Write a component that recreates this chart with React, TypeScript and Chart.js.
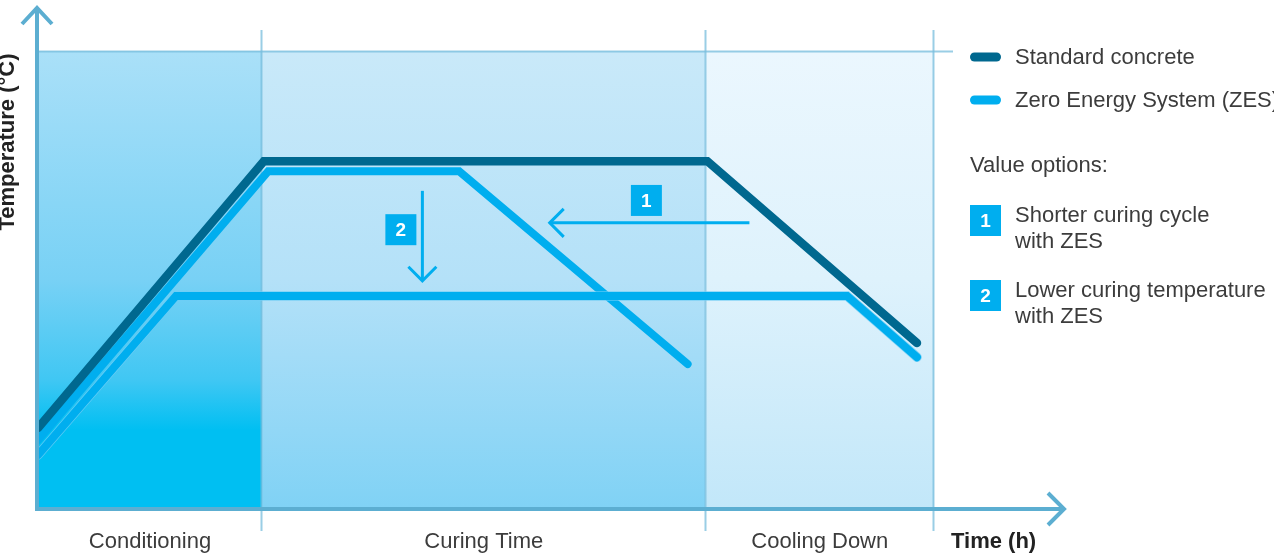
import React, { useEffect, useRef } from "react";
import { Chart, registerables } from "chart.js";

Chart.register(...registerables);

// ---- data ----
const phaseNames = ["Conditioning", "Curing Time", "Cooling Down"];
const phaseBounds = [0, 25, 74.5, 100];

const seriesLabels = ["Standard concrete", "Zero Energy System (ZES)"];

const standardX = [0, 25.2, 74.7, 98.1];
const standardY = [17.5, 75.9, 75.9, 36.1];

const zesShortX = [0, 25.7, 47.0, 72.5];
const zesShortY = [14.9, 73.7, 73.7, 31.5];

const zesLowX = [0, 15.4, 90.3, 98.1];
const zesLowY = [11.6, 46.4, 46.4, 33.0];

const optionNumbers = ["1", "2"];
const optionTexts = [
  ["Shorter curing cycle", "with ZES"],
  ["Lower curing temperature", "with ZES"],
];
const legendTitle = "Value options:";
const xAxisTitle = "Time (h)";
const yAxisTitle = "Temperature (°C)";

// annotation anchors in data units
const shortArrow = { x0: 79.4, x1: 57.0, y: 62.4, boxX: 67.9, boxY: 67.3 };
const lowArrow = { x: 42.9, y0: 69.4, y1: 49.5, boxX: 40.5, boxY: 60.9 };

const DARK = "#00688f";
const LIGHT = "#00aeef";
const AXIS = "#5caed1";
const TEXT = "#3c3c3c";
const FONT = '"Liberation Sans", Arial, Helvetica, sans-serif';

const pts = (xs: number[], ys: number[]) => xs.map((x, i) => ({ x, y: ys[i] }));

const decorPlugin = {
  id: "decor",
  beforeDatasetsDraw(chart: any) {
    const { ctx, chartArea, scales } = chart;
    const { top, bottom, left, right } = chartArea;
    const xs = scales.x;
    const stopsList = [
      [[0, "#aae0f8"], [0.5, "#78d1f5"], [0.72, "#40c7f3"], [0.83, "#00bff2"], [1, "#00bff2"]],
      [[0, "#c9e9f9"], [0.5, "#b4e1f8"], [1, "#80d2f5"]],
      [[0, "#ebf7fe"], [0.5, "#def2fc"], [1, "#c2e7f9"]],
    ];
    ctx.save();
    for (let i = 0; i < phaseNames.length; i++) {
      const x0 = xs.getPixelForValue(phaseBounds[i]);
      const x1 = xs.getPixelForValue(phaseBounds[i + 1]);
      const g = ctx.createLinearGradient(0, top, 0, bottom);
      for (const [o, c] of stopsList[i] as any) g.addColorStop(o, c);
      ctx.fillStyle = g;
      ctx.fillRect(x0, top, x1 - x0, bottom - top);
    }
    // divider lines
    ctx.strokeStyle = "rgba(120,190,220,0.75)";
    ctx.lineWidth = 2;
    for (let i = 1; i < phaseBounds.length; i++) {
      const x = Math.round(xs.getPixelForValue(phaseBounds[i])) - 0.5;
      ctx.beginPath();
      ctx.moveTo(x, top - 21);
      ctx.lineTo(x, bottom + 23);
      ctx.stroke();
    }
    ctx.beginPath();
    ctx.moveTo(left, top + 0.5);
    ctx.lineTo(right + 19, top + 0.5);
    ctx.stroke();
    ctx.restore();
  },
  afterDatasetsDraw(chart: any) {
    const { ctx, chartArea, scales } = chart;
    const { bottom, left, right } = chartArea;
    const xs = scales.x;
    const ys = scales.y;
    ctx.save();

    // axes
    ctx.strokeStyle = AXIS;
    ctx.lineWidth = 4;
    ctx.lineCap = "butt";
    ctx.lineJoin = "miter";
    const ax = left - 1;
    const ay = bottom + 1;
    ctx.beginPath();
    ctx.moveTo(ax, ay + 2);
    ctx.lineTo(ax, 9);
    ctx.stroke();
    ctx.beginPath();
    ctx.moveTo(ax - 15, 24);
    ctx.lineTo(ax, 8);
    ctx.lineTo(ax + 15, 24);
    ctx.stroke();
    ctx.beginPath();
    ctx.moveTo(ax - 2, ay);
    ctx.lineTo(1063, ay);
    ctx.stroke();
    ctx.beginPath();
    ctx.moveTo(1048, ay - 16);
    ctx.lineTo(1064, ay);
    ctx.lineTo(1048, ay + 16);
    ctx.stroke();

    // annotation arrows
    ctx.strokeStyle = LIGHT;
    ctx.lineWidth = 3;
    const a1x0 = xs.getPixelForValue(shortArrow.x0);
    const a1x1 = xs.getPixelForValue(shortArrow.x1);
    const a1y = ys.getPixelForValue(shortArrow.y);
    ctx.beginPath();
    ctx.moveTo(a1x0, a1y);
    ctx.lineTo(a1x1 + 1, a1y);
    ctx.stroke();
    ctx.beginPath();
    ctx.moveTo(a1x1 + 15, a1y - 14);
    ctx.lineTo(a1x1 + 1, a1y);
    ctx.lineTo(a1x1 + 15, a1y + 14);
    ctx.stroke();

    const a2x = xs.getPixelForValue(lowArrow.x);
    const a2y0 = ys.getPixelForValue(lowArrow.y0);
    const a2y1 = ys.getPixelForValue(lowArrow.y1);
    ctx.beginPath();
    ctx.moveTo(a2x, a2y0);
    ctx.lineTo(a2x, a2y1 - 1);
    ctx.stroke();
    ctx.beginPath();
    ctx.moveTo(a2x - 14, a2y1 - 15);
    ctx.lineTo(a2x, a2y1 - 1);
    ctx.lineTo(a2x + 14, a2y1 - 15);
    ctx.stroke();

    const drawBox = (cx: number, cy: number, label: string) => {
      ctx.fillStyle = LIGHT;
      ctx.fillRect(cx - 15.5, cy - 15.5, 31, 31);
      ctx.fillStyle = "#ffffff";
      ctx.font = `bold 19px ${FONT}`;
      ctx.textAlign = "center";
      ctx.textBaseline = "middle";
      ctx.fillText(label, cx, cy + 1);
    };
    drawBox(xs.getPixelForValue(shortArrow.boxX), ys.getPixelForValue(shortArrow.boxY), optionNumbers[0]);
    drawBox(xs.getPixelForValue(lowArrow.boxX), ys.getPixelForValue(lowArrow.boxY), optionNumbers[1]);

    // phase labels
    ctx.fillStyle = TEXT;
    ctx.font = `22px ${FONT}`;
    ctx.textAlign = "center";
    ctx.textBaseline = "alphabetic";
    for (let i = 0; i < phaseNames.length; i++) {
      const cx = (xs.getPixelForValue(phaseBounds[i]) + xs.getPixelForValue(phaseBounds[i + 1])) / 2;
      ctx.fillText(phaseNames[i], cx, bottom + 40);
    }
    ctx.font = `bold 22px ${FONT}`;
    ctx.textAlign = "left";
    ctx.fillStyle = "#222";
    ctx.fillText(xAxisTitle, right + 17, bottom + 40);

    ctx.save();
    ctx.translate(14, 142);
    ctx.rotate(-Math.PI / 2);
    ctx.textAlign = "center";
    ctx.fillText(yAxisTitle, 0, 0);
    ctx.restore();

    // legend
    const lx = right + 36;
    const tx = right + 81;
    ctx.lineCap = "round";
    ctx.lineWidth = 9;
    const swatch = (y: number, color: string) => {
      ctx.strokeStyle = color;
      ctx.beginPath();
      ctx.moveTo(lx + 4.5, y);
      ctx.lineTo(lx + 26.5, y);
      ctx.stroke();
    };
    swatch(57, DARK);
    swatch(100, LIGHT);
    ctx.fillStyle = TEXT;
    ctx.font = `22px ${FONT}`;
    ctx.textAlign = "left";
    ctx.textBaseline = "alphabetic";
    ctx.fillText(seriesLabels[0], tx, 64);
    ctx.fillText(seriesLabels[1], tx, 107);
    ctx.fillText(legendTitle, lx, 172);

    const optTops = [205, 280];
    for (let i = 0; i < optionNumbers.length; i++) {
      drawBox(lx + 15.5, optTops[i] + 15.5, optionNumbers[i]);
      ctx.fillStyle = TEXT;
      ctx.font = `22px ${FONT}`;
      ctx.textAlign = "left";
      ctx.textBaseline = "alphabetic";
      ctx.fillText(optionTexts[i][0], tx, optTops[i] + 17);
      ctx.fillText(optionTexts[i][1], tx, optTops[i] + 43);
    }
    ctx.restore();
  },
};

export default function App() {
  const ref = useRef<HTMLCanvasElement | null>(null);
  useEffect(() => {
    if (!ref.current) return;
    const chart = new Chart(ref.current, {
      type: "line",
      data: {
        datasets: [
          {
            label: seriesLabels[0],
            data: pts(standardX, standardY),
            borderColor: DARK,
            borderWidth: 8.5,
            order: 1,
          },
          {
            label: seriesLabels[1],
            data: pts(zesLowX, zesLowY),
            borderColor: LIGHT,
            borderWidth: 8,
            order: 2,
          },
          {
            label: "outline",
            data: pts(zesLowX, zesLowY),
            borderColor: "rgba(110,205,245,0.8)",
            borderWidth: 9.5,
            order: 3,
          },
          {
            label: seriesLabels[1] + " short",
            data: pts(zesShortX, zesShortY),
            borderColor: LIGHT,
            borderWidth: 8,
            order: 4,
          },
        ] as any,
      },
      options: {
        animation: false,
        responsive: false,
        devicePixelRatio: 1,
        layout: { padding: { left: 38, right: 340, top: 51, bottom: 45 } },
        elements: {
          line: { tension: 0, borderCapStyle: "round", borderJoinStyle: "miter", fill: false },
          point: { radius: 0, hoverRadius: 0 },
        },
        scales: {
          x: { type: "linear", min: 0, max: 100, display: false },
          y: { type: "linear", min: 0, max: 100, display: false },
        },
        plugins: {
          legend: { display: false },
          tooltip: { enabled: false },
        },
        events: [],
      },
      plugins: [decorPlugin],
    });
    return () => chart.destroy();
  }, []);
  return (
    <div style={{ position: "absolute", left: 0, top: 0, width: 1274, height: 553, background: "#fff" }}>
      <canvas ref={ref} width={1274} height={553} style={{ width: 1274, height: 553, display: "block" }} />
    </div>
  );
}
